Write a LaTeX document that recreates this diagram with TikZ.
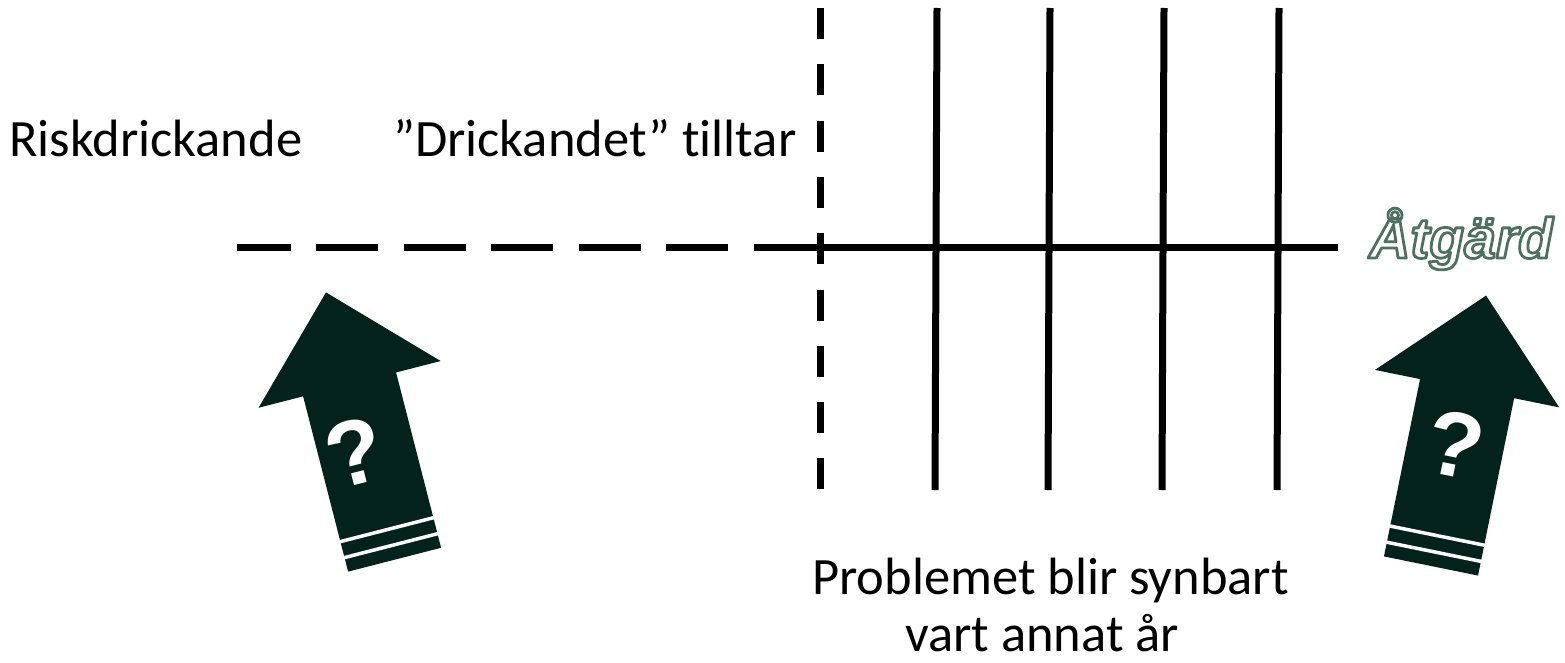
\documentclass[tikz,border=0pt]{standalone}
\usepackage{fontspec}
\setmainfont{Carlito}[Ligatures=NoCommon]
\newfontfamily\atgfont{Liberation Sans}
\newfontfamily\qfont{Liberation Sans}
\usetikzlibrary{calc}
\definecolor{arrowgreen}{HTML}{03221C}
\definecolor{outlinegreen}{HTML}{4E7062}
\newcommand{\outlinedtext}[1]{%
  \special{pdf:literal direct 2 Tr 2.8 w 1 j 0.306 0.439 0.384 RG}#1\special{pdf:literal direct 0 Tr}}
\tikzset{
  ln/.style={line width=7pt, black},
  txt/.style={font=\fontsize{52.5}{47}\selectfont, inner sep=0pt},
  qmark/.style={text=white, font=\qfont\bfseries\fontsize{92}{92}\selectfont, inner sep=0pt, transform shape},
  bigarrow/.style={fill=arrowgreen},
  stripe/.style={white, line width=3.5pt},
  atg/.style={font=\atgfont\bfseries\itshape\fontsize{57}{57}\selectfont, inner sep=0pt, anchor=base},
}
\begin{document}
\begin{tikzpicture}[x=1pt,y=-1pt]
\useasboundingbox (0,0) rectangle (1565,663);
% horizontal line
\coordinate (hl) at (237,247);
\coordinate (hm) at (815,247);
\coordinate (hr) at (1338,247);
\draw[ln, dash pattern=on 62pt off 25.5pt, dash phase=8.5pt] (hl) -- (hm);
\draw[ln] (hm) -- (hr);
% vertical dashed line
\coordinate (dt) at (820,8);
\coordinate (db) at (820,490);
\draw[ln, dash pattern=on 31pt off 25.3pt] (dt) -- (db);
% vertical solid lines
\foreach \x [count=\i] in {936,1049,1163,1278}{
  \coordinate (vt\i) at (\x+1,8);
  \coordinate (vb\i) at (\x-1,490);
  \draw[ln] (vt\i) -- (vb\i);
}
% left arrow
\begin{scope}[shift={(394.6,559.7)}, rotate=14.4]
  \fill[bigarrow] (-48,0) -- (48,0) -- (48,-181) -- (94,-181) -- (0,-276) -- (-94,-181) -- (-48,-181) -- cycle;
  \draw[stripe] (-50,-14.5) -- (50,-14.5);
  \draw[stripe] (-50,-31) -- (50,-31);
  \node[qmark] (q1) at (-11.5,-114) {?};
\end{scope}
% right arrow
\begin{scope}[shift={(1431,566)}, rotate=-11.5]
  \fill[bigarrow] (-48,0) -- (48,0) -- (48,-181) -- (94,-181) -- (0,-276) -- (-94,-181) -- (-48,-181) -- cycle;
  \draw[stripe] (-50,-14.5) -- (50,-14.5);
  \draw[stripe] (-50,-31) -- (50,-31);
  \node[qmark] (q2) at (0,-124) {?};
\end{scope}
% texts
\node[txt, anchor=base west] (risk) at (9,157) {Riskdrickande};
\node[txt, anchor=base west] (drick) at (393,157) {”Drickandet” tilltar};
\node[txt, anchor=base] (prob1) at (1050.5,594) {Problemet blir synbart};
\node[txt, anchor=base] (prob2) at (1042,651) {vart annat år};
% Åtgärd with outline
\node[atg, text=white] (atgard) at (1461,258) {\outlinedtext{Åtgärd}};
\end{tikzpicture}
\end{document}
